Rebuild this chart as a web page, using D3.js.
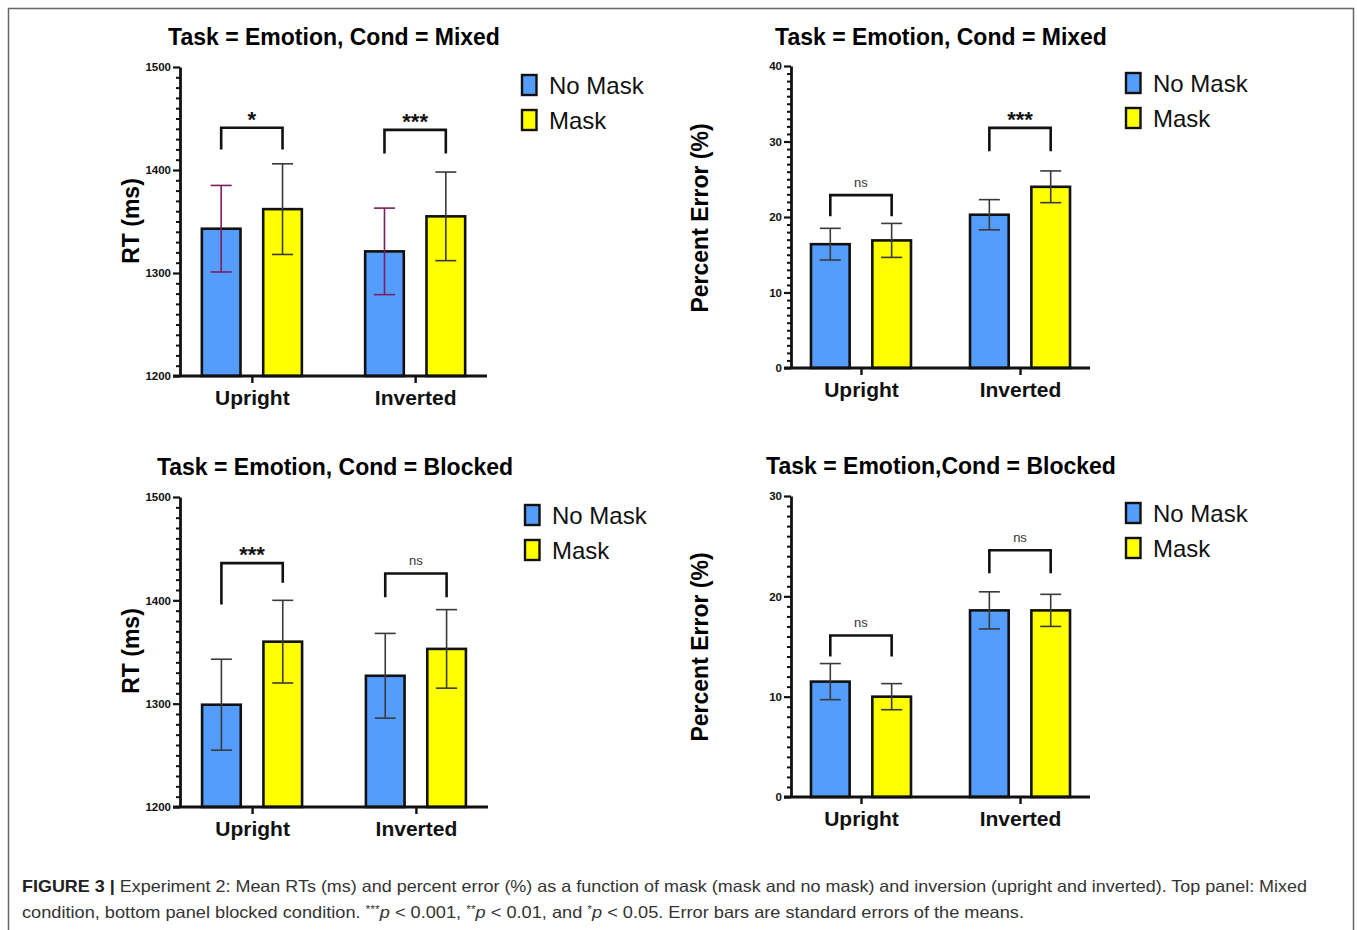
<!DOCTYPE html>
<html>
<head>
<meta charset="utf-8">
<script src="https://cdn.jsdelivr.net/npm/d3@7"></script>
<style>
  html, body { margin: 0; padding: 0; background: #fff; }
  svg { display: block; }
</style>
</head>
<body>
<svg id="chart" width="1357" height="930"></svg>
<script>
// ---------- DATA ----------
const categories = ["Upright", "Inverted"];
const series = ["No Mask", "Mask"];

// Top-left: RT, Mixed
const rtMixedNoMask = [1343, 1321];
const rtMixedMask = [1362, 1355];
const rtMixedNoMaskSE = [42, 42];
const rtMixedMaskSE = [44, 43];
const rtMixedSig = ["*", "***"];
const rtMixedBracketTop = [1441, 1439];
const rtMixedBracketLegs = [[1420, 1420], [1416, 1416]];

// Top-right: Percent error, Mixed
const errMixedNoMask = [16.4, 20.3];
const errMixedMask = [16.9, 24.0];
const errMixedNoMaskSE = [2.1, 2.0];
const errMixedMaskSE = [2.25, 2.1];
const errMixedSig = ["ns", "***"];
const errMixedBracketTop = [22.9, 31.8];
const errMixedBracketLegs = [[20.1, 20.1], [28.7, 28.7]];

// Bottom-left: RT, Blocked
const rtBlockedNoMask = [1299, 1327];
const rtBlockedMask = [1360, 1353];
const rtBlockedNoMaskSE = [44, 41];
const rtBlockedMaskSE = [40, 38];
const rtBlockedSig = ["***", "ns"];
const rtBlockedBracketTop = [1436, 1426];
const rtBlockedBracketLegs = [[1396, 1417], [1403, 1403]];

// Bottom-right: Percent error, Blocked
const errBlockedNoMask = [11.5, 18.6];
const errBlockedMask = [10.0, 18.6];
const errBlockedNoMaskSE = [1.8, 1.85];
const errBlockedMaskSE = [1.3, 1.6];
const errBlockedSig = ["ns", "ns"];
const errBlockedBracketTop = [16.1, 24.6];
const errBlockedBracketLegs = [[14.0, 14.0], [22.3, 22.3]];

const rtTicks = [1200, 1300, 1400, 1500];
const errTicksMixed = [0, 10, 20, 30, 40];
const errTicksBlocked = [0, 10, 20, 30];

const titles = [
  "Task = Emotion, Cond = Mixed",
  "Task = Emotion, Cond = Mixed",
  "Task = Emotion, Cond = Blocked",
  "Task = Emotion,Cond = Blocked"
];
const yLabels = ["RT (ms)", "Percent Error (%)", "RT (ms)", "Percent Error (%)"];

// ---------- STYLE ----------
const colors = { "No Mask": "#559dfd", "Mask": "#ffff00" };
const FONT = "'Liberation Sans', Arial, Helvetica, sans-serif";

const svg = d3.select("#chart");

// frame
svg.append("rect")
  .attr("x", 8.5).attr("y", 8.5).attr("width", 1345).attr("height", 940)
  .attr("fill", "none").attr("stroke", "#666").attr("stroke-width", 1.5);

function drawPanel(o) {
  const g = svg.append("g");
  const y = d3.scaleLinear().domain([o.ticks[0], o.ticks[o.ticks.length - 1]])
    .range([o.yBottom, o.yTop]);
  const x = d3.scalePoint().domain(categories).range([o.axisX, o.xEnd]).padding(0.44);
  const xs = d3.scaleBand().domain(series).range([-50, 50]).paddingInner(0.37);

  // title
  g.append("text")
    .attr("x", o.titleX).attr("y", o.titleY)
    .attr("text-anchor", "middle")
    .attr("font-family", FONT).attr("font-weight", "bold").attr("font-size", 23)
    .attr("fill", "#000")
    .text(o.title);

  // y label
  g.append("text")
    .attr("transform", `translate(${o.ylabX},${o.ylabY}) rotate(-90)`)
    .attr("text-anchor", "middle").attr("dominant-baseline", "central")
    .attr("font-family", FONT).attr("font-weight", "bold").attr("font-size", 23)
    .text(o.ylabel);

  // bars
  const rows = [];
  categories.forEach((c, i) => {
    rows.push({ c, s: "No Mask", v: o.noMask[i], se: o.noMaskSE[i] });
    rows.push({ c, s: "Mask", v: o.mask[i], se: o.maskSE[i] });
  });
  const x0 = y.domain()[0];
  g.selectAll("rect.bar").data(rows).join("rect")
    .attr("class", "bar")
    .attr("x", d => x(d.c) + xs(d.s))
    .attr("width", xs.bandwidth())
    .attr("y", d => y(d.v))
    .attr("height", d => y(x0) - y(d.v))
    .attr("fill", d => colors[d.s])
    .attr("stroke", "#111").attr("stroke-width", 2.6);

  // error bars
  const cap = 10.5;
  const eb = g.selectAll("g.eb").data(rows).join("g").attr("class", "eb")
    .attr("stroke", d => (d.s === "No Mask" && o.purpleNoMask) ? "#7d1d5e" : "#3a3a3a")
    .attr("stroke-width", 1.6);
  eb.append("line")
    .attr("x1", d => x(d.c) + xs(d.s) + xs.bandwidth() / 2)
    .attr("x2", d => x(d.c) + xs(d.s) + xs.bandwidth() / 2)
    .attr("y1", d => y(d.v + d.se)).attr("y2", d => y(d.v - d.se));
  eb.append("line")
    .attr("x1", d => x(d.c) + xs(d.s) + xs.bandwidth() / 2 - cap)
    .attr("x2", d => x(d.c) + xs(d.s) + xs.bandwidth() / 2 + cap)
    .attr("y1", d => y(d.v + d.se)).attr("y2", d => y(d.v + d.se));
  eb.append("line")
    .attr("x1", d => x(d.c) + xs(d.s) + xs.bandwidth() / 2 - cap)
    .attr("x2", d => x(d.c) + xs(d.s) + xs.bandwidth() / 2 + cap)
    .attr("y1", d => y(d.v - d.se)).attr("y2", d => y(d.v - d.se));

  // y axis minor ticks
  const lo = o.ticks[0], hi = o.ticks[o.ticks.length - 1];
  const minor = d3.range(lo, hi + o.minorStep / 2, o.minorStep)
    .filter(v => !o.ticks.some(t => Math.abs(t - v) < 1e-6));
  const minorAxis = g.append("g").attr("transform", `translate(${o.axisX},0)`)
    .call(d3.axisLeft(y).tickValues(minor).tickSize(4).tickSizeOuter(0).tickFormat(""));
  minorAxis.select(".domain").remove();
  minorAxis.selectAll("line").attr("stroke", "#111").attr("stroke-width", 2);

  const yAxis = g.append("g").attr("transform", `translate(${o.axisX},0)`)
    .call(d3.axisLeft(y).tickValues(o.ticks).tickSize(7).tickSizeOuter(0).tickPadding(2)
      .tickFormat(d3.format("d")));
  yAxis.select(".domain").attr("stroke", "#111").attr("stroke-width", 2.8);
  yAxis.selectAll("line").attr("stroke", "#111").attr("stroke-width", 2.2);
  yAxis.selectAll("text")
    .attr("font-family", FONT).attr("font-weight", "bold").attr("font-size", 11.5).attr("fill", "#111");

  // x axis
  const xAxis = g.append("g").attr("transform", `translate(0,${o.yBottom})`)
    .call(d3.axisBottom(x).tickSize(7).tickSizeOuter(0).tickPadding(7));
  xAxis.select(".domain").attr("stroke", "#111").attr("stroke-width", 2.8)
    .attr("d", `M${o.axisX - 7},0H${o.xEnd}`);
  xAxis.selectAll("line").attr("stroke", "#111").attr("stroke-width", 2.4);
  xAxis.selectAll("text")
    .attr("font-family", FONT).attr("font-weight", "bold").attr("font-size", 21).attr("fill", "#111");

  // significance brackets
  categories.forEach((c, i) => {
    const xl = x(c) + xs("No Mask") + xs.bandwidth() / 2;
    const xr = x(c) + xs("Mask") + xs.bandwidth() / 2;
    const yt = y(o.bracketTop[i]);
    g.append("path")
      .attr("d", `M${xl},${y(o.bracketLegs[i][0])}V${yt}H${xr}V${y(o.bracketLegs[i][1])}`)
      .attr("fill", "none").attr("stroke", "#111").attr("stroke-width", 2.6);
    const isNs = o.sig[i] === "ns";
    g.append("text")
      .attr("x", (xl + xr) / 2)
      .attr("y", isNs ? yt - 8 : yt - 1)
      .attr("text-anchor", "middle")
      .attr("font-family", FONT)
      .attr("font-weight", isNs ? "normal" : "bold")
      .attr("font-size", isNs ? 13 : 22)
      .attr("fill", isNs ? "#333" : "#111")
      .text(o.sig[i]);
  });

  // legend
  series.forEach((s, i) => {
    const ly = o.legY + i * 35;
    g.append("rect")
      .attr("x", o.legX).attr("y", ly - 10).attr("width", 14.5).attr("height", 20)
      .attr("fill", colors[s]).attr("stroke", "#111").attr("stroke-width", 2.4);
    g.append("text")
      .attr("x", o.legX + 27).attr("y", ly).attr("dominant-baseline", "central")
      .attr("font-family", FONT).attr("font-size", 24).attr("fill", "#111")
      .text(s);
  });
}

drawPanel({
  axisX: 180, yTop: 67, yBottom: 376, xEnd: 487,
  ticks: rtTicks, minorStep: 10,
  noMask: rtMixedNoMask, mask: rtMixedMask, noMaskSE: rtMixedNoMaskSE, maskSE: rtMixedMaskSE,
  sig: rtMixedSig, bracketTop: rtMixedBracketTop, bracketLegs: rtMixedBracketLegs,
  title: titles[0], titleX: 334, titleY: 45,
  ylabel: yLabels[0], ylabX: 131, ylabY: 221,
  legX: 522, legY: 85, purpleNoMask: true
});
drawPanel({
  axisX: 791, yTop: 66, yBottom: 368, xEnd: 1090,
  ticks: errTicksMixed, minorStep: 1,
  noMask: errMixedNoMask, mask: errMixedMask, noMaskSE: errMixedNoMaskSE, maskSE: errMixedMaskSE,
  sig: errMixedSig, bracketTop: errMixedBracketTop, bracketLegs: errMixedBracketLegs,
  title: titles[1], titleX: 941, titleY: 45,
  ylabel: yLabels[1], ylabX: 700, ylabY: 218,
  legX: 1126, legY: 83, purpleNoMask: false
});
drawPanel({
  axisX: 180, yTop: 497, yBottom: 807, xEnd: 488,
  ticks: rtTicks, minorStep: 10,
  noMask: rtBlockedNoMask, mask: rtBlockedMask, noMaskSE: rtBlockedNoMaskSE, maskSE: rtBlockedMaskSE,
  sig: rtBlockedSig, bracketTop: rtBlockedBracketTop, bracketLegs: rtBlockedBracketLegs,
  title: titles[2], titleX: 335, titleY: 475,
  ylabel: yLabels[2], ylabX: 131, ylabY: 651,
  legX: 525, legY: 515, purpleNoMask: false
});
drawPanel({
  axisX: 791, yTop: 496, yBottom: 797, xEnd: 1090,
  ticks: errTicksBlocked, minorStep: 1,
  noMask: errBlockedNoMask, mask: errBlockedMask, noMaskSE: errBlockedNoMaskSE, maskSE: errBlockedMaskSE,
  sig: errBlockedSig, bracketTop: errBlockedBracketTop, bracketLegs: errBlockedBracketLegs,
  title: titles[3], titleX: 941, titleY: 474,
  ylabel: yLabels[3], ylabX: 700, ylabY: 647,
  legX: 1126, legY: 513, purpleNoMask: false
});

// ---------- CAPTION ----------
const cap = svg.append("g").attr("font-family", FONT).attr("fill", "#333");
const line1 = cap.append("text").attr("x", 22).attr("y", 892).attr("font-size", 16.5)
  .attr("textLength", 1285).attr("lengthAdjust", "spacingAndGlyphs");
line1.append("tspan").attr("font-weight", "bold").attr("fill", "#222").text("FIGURE 3 | ");
line1.append("tspan").text("Experiment 2: Mean RTs (ms) and percent error (%) as a function of mask (mask and no mask) and inversion (upright and inverted). Top panel: Mixed");

const line2 = cap.append("text").attr("x", 22).attr("y", 918).attr("font-size", 16.5)
  .attr("textLength", 1002).attr("lengthAdjust", "spacingAndGlyphs");
line2.append("tspan").text("condition, bottom panel blocked condition. ");
line2.append("tspan").attr("font-size", 11).attr("dy", -5).text("***");
line2.append("tspan").attr("font-style", "italic").attr("dy", 5).text("p");
line2.append("tspan").text(" < 0.001, ");
line2.append("tspan").attr("font-size", 11).attr("dy", -5).text("**");
line2.append("tspan").attr("font-style", "italic").attr("dy", 5).text("p");
line2.append("tspan").text(" < 0.01, and ");
line2.append("tspan").attr("font-size", 11).attr("dy", -5).text("*");
line2.append("tspan").attr("font-style", "italic").attr("dy", 5).text("p");
line2.append("tspan").text(" < 0.05. Error bars are standard errors of the means.");
</script>
</body>
</html>
